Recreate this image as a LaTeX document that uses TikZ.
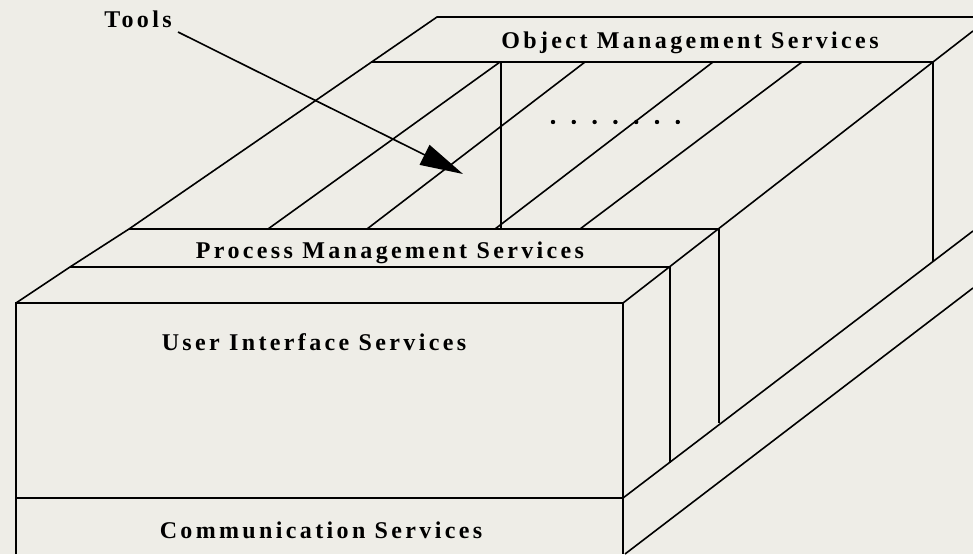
\documentclass[tikz,border=0pt]{standalone}
\usepackage{fontspec}
\setmainfont{Liberation Serif}
\newfontfamily\spacedfont[LetterSpace=14]{Liberation Serif}
\usepackage{xcolor}
\usepackage{tikz}
\usetikzlibrary{arrows.meta}

\definecolor{paper}{HTML}{EEEDE7}

\begin{document}
\begin{tikzpicture}[x=1pt, y=-1pt, line width=1.6pt,
  layertext/.style={font=\spacedfont\bfseries\fontsize{24}{28}\selectfont, inner sep=0pt, anchor=base}]
\fill [paper] (0,0) rectangle (973,554);
\useasboundingbox (0,0) rectangle (973,554);

% back layer
\draw (973,17) -- (437,17) -- (129,229) -- (70,267) -- (16,303);
\draw (371,62) -- (933,62) -- (933,262);
\draw (933,62) -- (973,31);
\draw (501,62) -- (501,229);
\foreach \a/\b in {268/500, 367/585, 495/713, 580/802}
  { \draw (\a,229) -- (\b,62) ; }
\foreach \i in {0,...,6}
  { \fill (553+\i*20.8, 122) circle (2.2) ; }

% front layers
\draw (16,554) -- (16,303) -- (623,303) -- (623,554);
\draw (16,498) -- (623,498);
\draw (623,303) -- (933,62);
\draw (70,267) -- (670,267) -- (670,463);
\draw (129,229) -- (719,229) -- (719,423);
\draw (623,498) -- (973,231);
\draw (625,554) -- (973,288);

\node [layertext] (oms) at (690,48) {Object Management Services};
\node [layertext] (pms) at (390,258) {Process Management Services};
\node [layertext] (uis) at (314,350) {User Interface Services};
\node [layertext] (comm) at (321,538) {Communication Services};
\node [layertext] (tools) at (138,27) {Tools};

\coordinate (toolstail) at (178,32);
\coordinate (tooltip) at (463,174);
\draw [-{Triangle[length=43pt, width=22pt]}] (toolstail) -- (tooltip);
\end{tikzpicture}
\end{document}
